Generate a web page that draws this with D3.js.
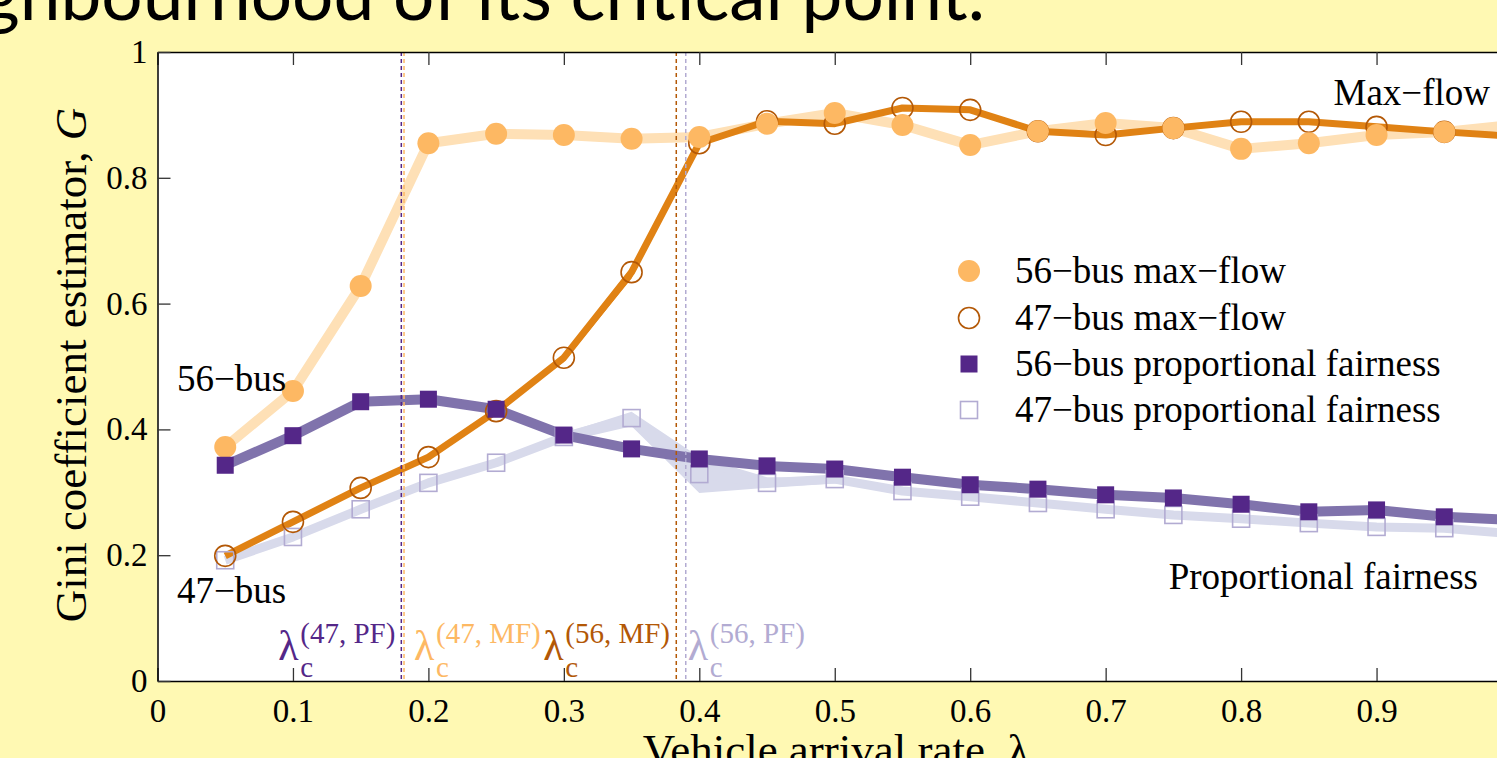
<!DOCTYPE html>
<html>
<head>
<meta charset="utf-8">
<title>Gini coefficient estimator vs vehicle arrival rate</title>
<style>
  html, body { margin: 0; padding: 0; background: #fff9b3; overflow: hidden; }
  svg { display: block; }
  .serif { font-family: "Liberation Serif", "Times New Roman", serif; }
</style>
</head>
<body>
<div id="chart"></div>
<script src="https://d3js.org/d3.v7.min.js"></script>
<script>
// arrival rates (x of every marker)
const rates = [0.05, 0.10, 0.15, 0.20, 0.25, 0.30, 0.35, 0.40, 0.45, 0.50,
               0.55, 0.60, 0.65, 0.70, 0.75, 0.80, 0.85, 0.90, 0.95, 1.00];

// Gini estimates
const mf56 = [0.372, 0.461, 0.628, 0.855, 0.870, 0.868, 0.862, 0.865, 0.886, 0.903,
              0.884, 0.852, 0.874, 0.887, 0.879, 0.846, 0.855, 0.868, 0.873, 0.884];
const mf47 = [0.199, 0.253, 0.307, 0.356, 0.429, 0.514, 0.650, 0.855, 0.890, 0.886,
              0.911, 0.908, 0.874, 0.868, 0.879, 0.889, 0.889, 0.881, 0.873, 0.866];
const pf56 = [0.343, 0.390, 0.444, 0.448, 0.432, 0.391, 0.369, 0.353, 0.342, 0.337,
              0.324, 0.312, 0.305, 0.296, 0.291, 0.281, 0.269, 0.272, 0.261, 0.256];
const pf47 = [0.192, 0.229, 0.273, 0.315, 0.347, 0.388, 0.418, 0.329, 0.315, 0.321,
              0.302, 0.293, 0.283, 0.273, 0.264, 0.258, 0.251, 0.245, 0.243, 0.234];

// spread bands around the lines (where they widen)
const mf47Lo = [0.199, 0.253, 0.307, 0.356, 0.429, 0.507, 0.640, 0.850, 0.890, 0.886,
                0.911, 0.908, 0.874, 0.868, 0.879, 0.889, 0.889, 0.881, 0.873, 0.866];
const mf47Hi = [0.199, 0.253, 0.307, 0.356, 0.429, 0.520, 0.658, 0.858, 0.890, 0.886,
                0.911, 0.908, 0.874, 0.868, 0.879, 0.889, 0.889, 0.881, 0.873, 0.866];
const pf56Lo = [0.343, 0.390, 0.440, 0.441, 0.430, 0.391, 0.369, 0.353, 0.342, 0.337,
                0.324, 0.312, 0.305, 0.296, 0.291, 0.281, 0.269, 0.272, 0.261, 0.256];
const pf56Hi = [0.343, 0.390, 0.447, 0.455, 0.436, 0.391, 0.369, 0.353, 0.342, 0.337,
                0.324, 0.312, 0.305, 0.296, 0.291, 0.281, 0.269, 0.272, 0.261, 0.256];
const pf47Lo = [0.192, 0.229, 0.273, 0.315, 0.347, 0.380, 0.405, 0.299, 0.307, 0.314,
                0.302, 0.293, 0.283, 0.273, 0.264, 0.258, 0.251, 0.245, 0.243, 0.234];
const pf47Hi = [0.192, 0.229, 0.273, 0.315, 0.347, 0.394, 0.428, 0.356, 0.324, 0.323,
                0.302, 0.293, 0.283, 0.273, 0.264, 0.258, 0.251, 0.245, 0.243, 0.234];

// critical arrival rates
const critNames = ["(47, PF)", "(47, MF)", "(56, MF)", "(56, PF)"];
const critRates = [0.180, 0.182, 0.383, 0.390];

const xTicks = [0, 0.1, 0.2, 0.3, 0.4, 0.5, 0.6, 0.7, 0.8, 0.9, 1];
const yTicks = [0, 0.2, 0.4, 0.6, 0.8, 1];

const legendLabels = ["56\u2212bus max\u2212flow", "47\u2212bus max\u2212flow",
                      "56\u2212bus proportional fairness", "47\u2212bus proportional fairness"];

// colours
const cMF56 = "#fdb863", cMF56line = "#fee0b6";
const cMF47 = "#b35806", cMF47line = "#e08214";
const cPF56 = "#542788", cPF56line = "#8073ac";
const cPF47 = "#b2abd2", cPF47line = "#d8daeb";
const critColors = [cPF56, cMF56, cMF47, cPF47];

const W = 1497, H = 758;
const svg = d3.select("#chart").append("svg")
  .attr("width", W).attr("height", H);

// slide title, cut by the top and left edges
svg.append("text")
  .attr("x", 985).attr("y", 20)
  .attr("text-anchor", "end")
  .style("font-family", "Lato, 'DejaVu Sans', sans-serif")
  .style("font-size", "73px")
  .attr("fill", "#000")
  .text("neighbourhood of its critical point.");

const x = d3.scaleLinear().domain([0, 1]).range([157.5, 1512]);
const y = d3.scaleLinear().domain([0, 1]).range([681, 52]);

svg.append("rect")
  .attr("x", x(0)).attr("y", y(1))
  .attr("width", x(1) - x(0)).attr("height", y(0) - y(1))
  .attr("fill", "#fff");

const pts = arr => arr.map((v, i) => [rates[i], v]);
const line = d3.line().x(d => x(d[0])).y(d => y(d[1]));
const band = d3.area().x((d, i) => x(rates[i])).y0(d => y(d[0])).y1(d => y(d[1]));

function drawSeries(vals, lo, hi, color, width) {
  if (lo) {
    svg.append("path")
      .datum(lo.map((v, i) => [v, hi[i]]))
      .attr("d", band)
      .attr("fill", color);
  }
  svg.append("path")
    .datum(pts(vals))
    .attr("d", line)
    .attr("fill", "none")
    .attr("stroke", color)
    .attr("stroke-width", width)
    .attr("stroke-linejoin", "round");
}

drawSeries(pf47, pf47Lo, pf47Hi, cPF47line, 9);
drawSeries(pf56, pf56Lo, pf56Hi, cPF56line, 10);
drawSeries(mf56, null, null, cMF56line, 10);
drawSeries(mf47, mf47Lo, mf47Hi, cMF47line, 7);

// critical rate lines
svg.selectAll(".crit")
  .data(critRates)
  .enter().append("line")
  .attr("x1", d => x(d)).attr("x2", d => x(d))
  .attr("y1", y(1)).attr("y2", y(0))
  .attr("stroke", (d, i) => critColors[i])
  .attr("stroke-width", 1.5)
  .attr("stroke-dasharray", "4,3");

// markers
const sq = 17;
svg.selectAll(".pf47")
  .data(pts(pf47)).enter().append("rect")
  .attr("x", d => x(d[0]) - sq / 2).attr("y", d => y(d[1]) - sq / 2)
  .attr("width", sq).attr("height", sq)
  .attr("fill", "none").attr("stroke", cPF47).attr("stroke-width", 1.6);

svg.selectAll(".mf47")
  .data(pts(mf47)).enter().append("circle")
  .attr("cx", d => x(d[0])).attr("cy", d => y(d[1])).attr("r", 10.5)
  .attr("fill", "none").attr("stroke", cMF47).attr("stroke-width", 1.6);

svg.selectAll(".mf56")
  .data(pts(mf56)).enter().append("circle")
  .attr("cx", d => x(d[0])).attr("cy", d => y(d[1])).attr("r", 11)
  .attr("fill", cMF56);

svg.selectAll(".pf56")
  .data(pts(pf56)).enter().append("rect")
  .attr("x", d => x(d[0]) - sq / 2).attr("y", d => y(d[1]) - sq / 2)
  .attr("width", sq).attr("height", sq)
  .attr("fill", cPF56);

// axes
function styleAxis(g) {
  g.select(".domain").attr("stroke", "#000").attr("stroke-width", 1.5);
  g.selectAll(".tick line").attr("stroke", "#333").attr("stroke-width", 1.3);
  g.selectAll("text").attr("class", "serif").style("font-size", "33px").attr("fill", "#000");
}

svg.append("g")
  .attr("transform", `translate(0,${y(0)})`)
  .call(d3.axisBottom(x).tickValues(xTicks).tickFormat(d3.format("~g"))
    .tickSizeInner(-13).tickSizeOuter(0).tickPadding(18))
  .call(styleAxis);

svg.append("g")
  .attr("transform", `translate(0,${y(1)})`)
  .call(d3.axisTop(x).tickValues(xTicks).tickFormat("")
    .tickSizeInner(-13).tickSizeOuter(0))
  .call(styleAxis);

svg.append("g")
  .attr("transform", `translate(${x(0)},0)`)
  .call(d3.axisLeft(y).tickValues(yTicks).tickFormat(d3.format("~g"))
    .tickSizeInner(-13).tickSizeOuter(0).tickPadding(10))
  .call(styleAxis);

svg.append("g")
  .attr("transform", `translate(${x(1)},0)`)
  .call(d3.axisRight(y).tickValues(yTicks).tickFormat("")
    .tickSizeInner(-13).tickSizeOuter(0))
  .call(styleAxis);

// axis titles
svg.append("text")
  .attr("class", "serif")
  .attr("x", 836).attr("y", 765)
  .attr("text-anchor", "middle")
  .style("font-size", "45px")
  .text("Vehicle arrival rate, \u03bb");

const yl = svg.append("text")
  .attr("class", "serif")
  .attr("transform", `translate(86,${365}) rotate(-90)`)
  .attr("text-anchor", "middle")
  .style("font-size", "45px");
yl.append("tspan").text("Gini coefficient estimator, ");
yl.append("tspan").style("font-style", "italic").text("G");

// annotations
const note = (tx, ty, s, anchor) => svg.append("text")
  .attr("class", "serif").attr("x", tx).attr("y", ty)
  .attr("text-anchor", anchor || "start")
  .style("font-size", "37px").text(s);
note(177, 391, "56\u2212bus");
note(177, 603, "47\u2212bus");
note(1490, 105, "Max\u2212flow", "end");
note(1478, 589, "Proportional fairness", "end");

// critical rate labels
const lamOffset = [-123, 10, -133, 2];
critRates.forEach((c, i) => {
  const lx = x(c) + lamOffset[i];
  const col = critColors[i];
  svg.append("text").attr("class", "serif")
    .attr("x", lx).attr("y", 660).attr("fill", col)
    .style("font-size", "42px").text("\u03bb");
  svg.append("text").attr("class", "serif")
    .attr("x", lx + 22).attr("y", 643).attr("fill", col)
    .style("font-size", "29px").text(critNames[i]);
  svg.append("text").attr("class", "serif")
    .attr("x", lx + 22).attr("y", 677).attr("fill", col)
    .style("font-size", "29px").text("c");
});

// legend
const legY = [271, 318, 364, 410];
const lg = svg.append("g");
lg.append("circle").attr("cx", 969).attr("cy", legY[0]).attr("r", 11).attr("fill", cMF56);
lg.append("circle").attr("cx", 969).attr("cy", legY[1]).attr("r", 10.5)
  .attr("fill", "none").attr("stroke", cMF47).attr("stroke-width", 1.6);
lg.append("rect").attr("x", 969 - sq / 2).attr("y", legY[2] - sq / 2)
  .attr("width", sq).attr("height", sq).attr("fill", cPF56);
lg.append("rect").attr("x", 969 - sq / 2).attr("y", legY[3] - sq / 2)
  .attr("width", sq).attr("height", sq)
  .attr("fill", "none").attr("stroke", cPF47).attr("stroke-width", 1.6);
lg.selectAll("text")
  .data(legendLabels).enter().append("text")
  .attr("class", "serif")
  .attr("x", 1015).attr("y", (d, i) => legY[i] + 12)
  .style("font-size", "37px")
  .text(d => d);
</script>
</body>
</html>
